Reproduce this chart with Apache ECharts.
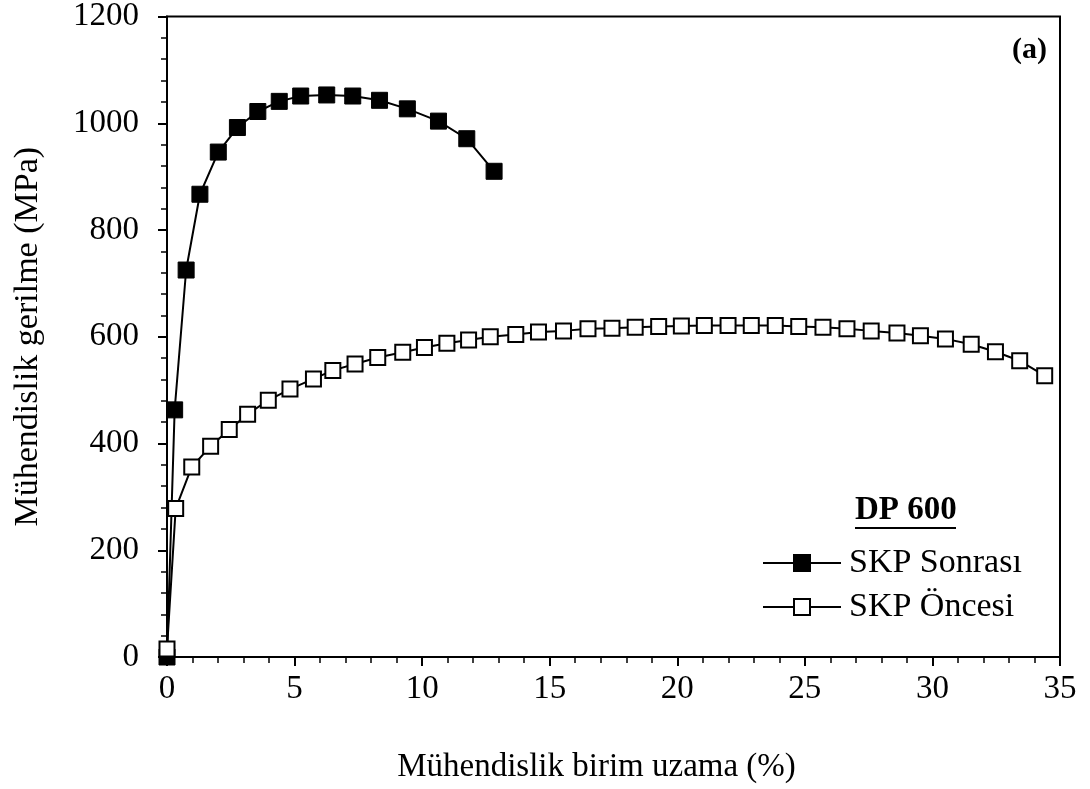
<!DOCTYPE html>
<html>
<head>
<meta charset="utf-8">
<script src="https://cdn.jsdelivr.net/npm/echarts@6/dist/echarts.min.js"></script>
<style>
html,body{margin:0;padding:0;background:#fff;}
#c{width:1090px;height:789px;}
</style>
</head>
<body>
<div id="c"></div>
<script>
// Data
const sonrasiX = [0, 0.3, 0.75, 1.29, 2.01, 2.76, 3.56, 4.40, 5.24, 6.26, 7.28, 8.33, 9.42, 10.64, 11.75, 12.82];
const sonrasiY = [0, 463, 725, 867, 946, 992, 1022, 1041, 1051, 1053, 1051, 1043, 1027, 1004, 971, 910];

const oncesiX = [0, 0.34, 0.97, 1.71, 2.44, 3.16, 3.97, 4.82, 5.74, 6.50, 7.37, 8.26, 9.24, 10.09, 10.97, 11.82, 12.67, 13.67, 14.56, 15.54, 16.50, 17.44, 18.35, 19.27, 20.16, 21.06, 21.99, 22.90, 23.84, 24.76, 25.71, 26.65, 27.60, 28.61, 29.53, 30.51, 31.52, 32.47, 33.42, 34.40];
const oncesiY = [15, 278, 356, 395, 426, 455, 481, 502, 521, 537, 549, 561, 571, 580, 588, 594, 600, 604, 609, 611, 615, 616, 618, 619, 620, 621, 621, 621, 621, 619, 618, 615, 611, 607, 602, 596, 586, 572, 555, 527];

const seriesNames = ['SKP Sonrası', 'SKP Öncesi'];
const xTitle = 'Mühendislik birim uzama (%)';
const yTitle = 'Mühendislik gerilme (MPa)';
const panelLabel = '(a)';
const legendTitle = 'DP 600';

const pair = (xs, ys) => xs.map((x, i) => [x, ys[i]]);
const FONT = '"Liberation Serif", "Times New Roman", serif';

const chart = echarts.init(document.getElementById('c'), null, {renderer: 'canvas'});
chart.setOption({
  animation: false,
  backgroundColor: '#fff',
  grid: {left: 167, right: 30, top: 16, bottom: 130, show: true, borderColor: '#000', borderWidth: 2, backgroundColor: 'transparent'},
  title: {
    text: panelLabel, right: 38, top: 30,
    textStyle: {fontFamily: FONT, fontWeight: 'bold', fontSize: 30, color: '#000'}
  },
  legend: {
    data: seriesNames,
    orient: 'vertical',
    left: 757, top: 541,
    itemWidth: 78, itemHeight: 20, itemGap: 10,
    textStyle: {fontFamily: FONT, fontSize: 34, color: '#000', padding: [0, 0, 0, 3]}
  },
  xAxis: {
    type: 'value', min: 0, max: 35, interval: 5,
    name: xTitle, nameLocation: 'middle', nameGap: 94,
    nameTextStyle: {fontFamily: FONT, fontSize: 33, color: '#000', padding: [0, 34, 0, 0]},
    axisLine: {show: true, onZero: false, lineStyle: {color: '#000', width: 2}},
    axisTick: {show: true, inside: false, length: 9, lineStyle: {color: '#000', width: 2}},
    minorTick: {show: true, splitNumber: 5, length: 6, lineStyle: {color: '#000', width: 1.5}},
    splitLine: {show: false},
    axisLabel: {fontFamily: FONT, fontSize: 33, color: '#000', margin: 16, formatter: v => String(v)}
  },
  yAxis: {
    type: 'value', min: 0, max: 1200, interval: 200,
    name: yTitle, nameLocation: 'middle', nameGap: 122, nameRotate: 90,
    nameTextStyle: {fontFamily: FONT, fontSize: 34, color: '#000'},
    axisLine: {show: true, onZero: false, lineStyle: {color: '#000', width: 2}},
    axisTick: {show: true, inside: false, length: 9, lineStyle: {color: '#000', width: 2}},
    minorTick: {show: true, splitNumber: 5, length: 6, lineStyle: {color: '#000', width: 1.5}},
    splitLine: {show: false},
    axisLabel: {fontFamily: FONT, fontSize: 33, color: '#000', margin: 28, formatter: v => String(v)}
  },
  graphic: [
    {type: 'text', left: 855, top: 494, style: {text: legendTitle, font: 'bold 33px ' + FONT, fill: '#000'}},
    {type: 'line', shape: {x1: 855, y1: 528, x2: 956, y2: 528}, style: {stroke: '#000', lineWidth: 2}}
  ],
  series: [
    {
      name: seriesNames[0], type: 'line', data: pair(sonrasiX, sonrasiY),
      symbol: 'rect', symbolSize: 16,
      lineStyle: {color: '#000', width: 2},
      itemStyle: {color: '#000', borderColor: '#000', borderWidth: 1}
    },
    {
      name: seriesNames[1], type: 'line', data: pair(oncesiX, oncesiY),
      symbol: 'rect', symbolSize: 15,
      lineStyle: {color: '#000', width: 2},
      itemStyle: {color: '#fff', borderColor: '#000', borderWidth: 2}
    }
  ]
});
</script>
</body>
</html>
